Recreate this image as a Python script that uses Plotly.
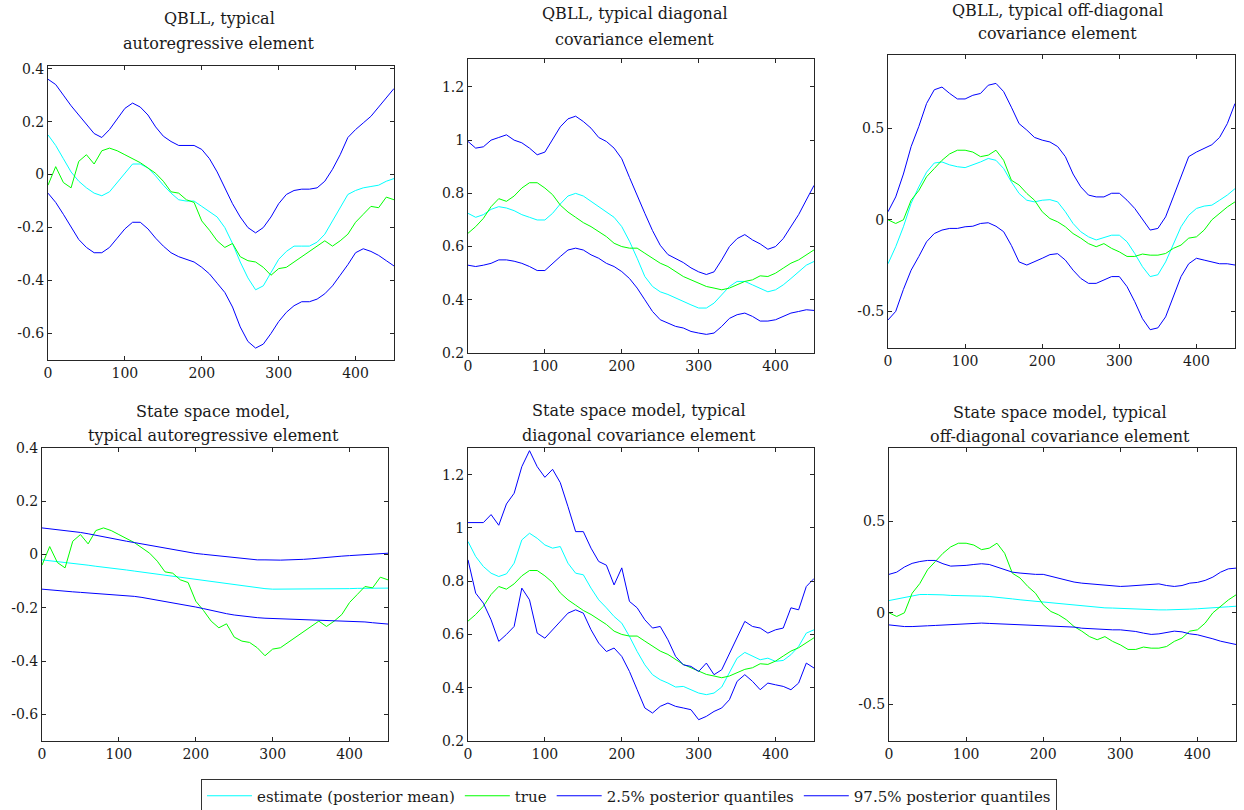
import plotly.graph_objects as go

W, H = 1244, 810
FONT = "DejaVu Serif"


def px(xp):
    return xp / W


def py(yp):
    return 1 - yp / H


T = list(range(0, 451, 10))

# ---- true parameter paths (same in both rows) ----
ar_true = [-0.04, 0.03, -0.03, -0.05, 0.05, 0.075, 0.04, 0.09, 0.10, 0.09,
           0.075, 0.06, 0.045, 0.025, 0.005, -0.025, -0.065, -0.07, -0.095, -0.105,
           -0.175, -0.21, -0.25, -0.275, -0.26, -0.31, -0.325, -0.33, -0.35, -0.38,
           -0.355, -0.35, -0.33, -0.31, -0.29, -0.27, -0.25, -0.27, -0.25, -0.225,
           -0.18, -0.15, -0.12, -0.125, -0.085, -0.095]
diag_true = [0.65, 0.675, 0.706, 0.75, 0.78, 0.77, 0.79, 0.82, 0.84, 0.84,
             0.82, 0.795, 0.756, 0.73, 0.71, 0.69, 0.675, 0.656, 0.6375, 0.6125,
             0.60, 0.594, 0.594, 0.575, 0.556, 0.5375, 0.525, 0.506, 0.4875, 0.475,
             0.4625, 0.45, 0.444, 0.4375, 0.444, 0.456, 0.469, 0.475, 0.49, 0.4875,
             0.50, 0.519, 0.5375, 0.55, 0.569, 0.5875]
off_true = [0.0, -0.02, 0.0, 0.107, 0.16, 0.235, 0.28, 0.325, 0.36, 0.38,
            0.38, 0.37, 0.345, 0.353, 0.38, 0.325, 0.216, 0.19, 0.144, 0.107,
            0.044, 0.007, -0.011, -0.038, -0.075, -0.10, -0.13, -0.147, -0.13, -0.156,
            -0.175, -0.20, -0.20, -0.187, -0.193, -0.193, -0.184, -0.156, -0.138, -0.10,
            -0.093, -0.056, 0.0, 0.035, 0.07, 0.098]

# ---- QBLL ----
qbll_ar_mean = [0.15, 0.11, 0.06, 0.01, -0.025, -0.05, -0.07, -0.08, -0.065, -0.03,
                0.005, 0.04, 0.04, 0.025, -0.005, -0.04, -0.07, -0.095, -0.10, -0.10,
                -0.12, -0.14, -0.16, -0.20, -0.26, -0.33, -0.39, -0.435, -0.42, -0.37,
                -0.32, -0.29, -0.27, -0.27, -0.27, -0.255, -0.225, -0.175, -0.125, -0.075,
                -0.06, -0.05, -0.045, -0.04, -0.025, -0.015]
qbll_ar_lo = [-0.07, -0.105, -0.15, -0.20, -0.245, -0.275, -0.295, -0.295, -0.275, -0.24,
              -0.205, -0.18, -0.18, -0.205, -0.24, -0.27, -0.295, -0.31, -0.32, -0.33,
              -0.35, -0.375, -0.41, -0.445, -0.50, -0.575, -0.63, -0.655, -0.64, -0.60,
              -0.555, -0.52, -0.495, -0.48, -0.48, -0.47, -0.45, -0.42, -0.38, -0.34,
              -0.295, -0.28, -0.29, -0.305, -0.325, -0.345]
qbll_ar_hi = [0.36, 0.34, 0.30, 0.26, 0.225, 0.19, 0.155, 0.14, 0.17, 0.21,
              0.25, 0.27, 0.255, 0.225, 0.18, 0.145, 0.125, 0.11, 0.11, 0.11,
              0.095, 0.06, 0.01, -0.05, -0.11, -0.16, -0.20, -0.22, -0.20, -0.16,
              -0.11, -0.075, -0.06, -0.055, -0.055, -0.05, -0.025, 0.02, 0.075, 0.14,
              0.17, 0.195, 0.22, 0.255, 0.29, 0.325]

qbll_diag_mean = [0.725, 0.71, 0.72, 0.74, 0.75, 0.745, 0.735, 0.72, 0.71, 0.70,
                  0.70, 0.725, 0.76, 0.79, 0.80, 0.79, 0.77, 0.75, 0.73, 0.71,
                  0.675, 0.62, 0.556, 0.4875, 0.45, 0.43, 0.42, 0.406, 0.394, 0.381,
                  0.369, 0.369, 0.3875, 0.42, 0.45, 0.469, 0.469, 0.456, 0.444, 0.43,
                  0.4375, 0.456, 0.48, 0.506, 0.53, 0.544]
qbll_diag_lo = [0.53, 0.525, 0.53, 0.537, 0.55, 0.55, 0.545, 0.537, 0.525, 0.51,
                0.51, 0.537, 0.5625, 0.587, 0.594, 0.587, 0.569, 0.556, 0.537, 0.525,
                0.506, 0.48, 0.444, 0.40, 0.356, 0.325, 0.3125, 0.30, 0.294, 0.281,
                0.275, 0.27, 0.275, 0.30, 0.33, 0.344, 0.35, 0.3375, 0.32, 0.32,
                0.325, 0.3375, 0.35, 0.356, 0.3625, 0.36]
qbll_diag_hi = [0.995, 0.97, 0.975, 1.0, 1.01, 1.02, 1.0, 0.99, 0.97, 0.945,
                0.955, 1.0, 1.05, 1.08, 1.09, 1.07, 1.045, 1.01, 0.995, 0.97,
                0.93, 0.86, 0.79, 0.725, 0.66, 0.605, 0.57, 0.555, 0.54, 0.52,
                0.505, 0.495, 0.505, 0.55, 0.60, 0.63, 0.645, 0.625, 0.61, 0.59,
                0.60, 0.63, 0.675, 0.72, 0.775, 0.83]

qbll_off_mean = [-0.24, -0.147, -0.038, 0.09, 0.18, 0.26, 0.31, 0.316, 0.30, 0.29,
                 0.285, 0.30, 0.316, 0.335, 0.325, 0.28, 0.207, 0.144, 0.107, 0.098,
                 0.107, 0.11, 0.098, 0.044, -0.02, -0.065, -0.093, -0.11, -0.096, -0.084,
                 -0.084, -0.12, -0.184, -0.256, -0.31, -0.30, -0.23, -0.13, -0.038, 0.025,
                 0.062, 0.075, 0.08, 0.107, 0.135, 0.17]
qbll_off_lo = [-0.547, -0.50, -0.38, -0.275, -0.20, -0.12, -0.075, -0.056, -0.047, -0.047,
               -0.038, -0.035, -0.02, -0.016, -0.035, -0.065, -0.14, -0.23, -0.247, -0.23,
               -0.21, -0.19, -0.185, -0.22, -0.275, -0.32, -0.347, -0.347, -0.33, -0.31,
               -0.31, -0.365, -0.447, -0.54, -0.60, -0.59, -0.53, -0.42, -0.31, -0.24,
               -0.21, -0.22, -0.23, -0.24, -0.24, -0.247]
qbll_off_hi = [0.044, 0.125, 0.25, 0.40, 0.51, 0.635, 0.71, 0.725, 0.69, 0.66,
               0.66, 0.68, 0.69, 0.735, 0.745, 0.70, 0.615, 0.525, 0.49, 0.45,
               0.435, 0.425, 0.40, 0.345, 0.25, 0.18, 0.135, 0.125, 0.125, 0.145,
               0.145, 0.107, 0.062, 0.0, -0.056, -0.047, 0.016, 0.125, 0.235, 0.345,
               0.37, 0.39, 0.41, 0.45, 0.525, 0.635]

# ---- State space model ----
ssm_ar_mean = [-0.020, -0.023, -0.027, -0.030, -0.033, -0.037, -0.040, -0.044, -0.047, -0.051,
               -0.054, -0.058, -0.062, -0.066, -0.070, -0.074, -0.078, -0.082, -0.086, -0.090,
               -0.094, -0.098, -0.102, -0.106, -0.110, -0.114, -0.118, -0.122, -0.125, -0.128,
               -0.130, -0.130, -0.130, -0.130, -0.130, -0.130, -0.130, -0.130, -0.130, -0.129,
               -0.128, -0.127, -0.127, -0.127, -0.126, -0.126]
ssm_ar_lo = [-0.130, -0.133, -0.136, -0.138, -0.140, -0.142, -0.144, -0.146, -0.148, -0.150,
             -0.152, -0.154, -0.157, -0.161, -0.166, -0.170, -0.176, -0.181, -0.187, -0.192,
             -0.197, -0.203, -0.210, -0.216, -0.222, -0.227, -0.231, -0.235, -0.237, -0.239,
             -0.240, -0.241, -0.242, -0.243, -0.244, -0.245, -0.246, -0.247, -0.248, -0.249,
             -0.250, -0.251, -0.253, -0.256, -0.259, -0.261]
ssm_ar_hi = [0.100, 0.097, 0.094, 0.090, 0.087, 0.083, 0.078, 0.072, 0.067, 0.061,
             0.056, 0.050, 0.045, 0.040, 0.034, 0.028, 0.023, 0.018, 0.013, 0.008,
             0.004, 0.001, -0.002, -0.005, -0.008, -0.011, -0.015, -0.018, -0.020, -0.020,
             -0.021, -0.021, -0.020, -0.020, -0.018, -0.016, -0.013, -0.010, -0.008, -0.006,
             -0.004, -0.002, 0.000, 0.000, 0.002, 0.005]

ssm_diag_mean = [0.949, 0.8925, 0.855, 0.83, 0.8175, 0.8275, 0.8675, 0.955, 0.98, 0.961,
                 0.936, 0.924, 0.93, 0.8675, 0.83, 0.824, 0.774, 0.73, 0.70, 0.6675,
                 0.6425, 0.5925, 0.536, 0.486, 0.449, 0.43, 0.4175, 0.4025, 0.405, 0.3925,
                 0.38, 0.374, 0.38, 0.4025, 0.455, 0.511, 0.5325, 0.5175, 0.505, 0.511,
                 0.499, 0.5025, 0.524, 0.555, 0.605, 0.6175]
ssm_diag_lo = [0.88, 0.755, 0.7175, 0.655, 0.574, 0.60, 0.63, 0.774, 0.73, 0.605,
               0.586, 0.6175, 0.649, 0.68, 0.6925, 0.68, 0.6175, 0.5675, 0.536, 0.549,
               0.5175, 0.461, 0.3925, 0.324, 0.305, 0.33, 0.3425, 0.33, 0.324, 0.3175,
               0.28, 0.2925, 0.311, 0.324, 0.355, 0.424, 0.449, 0.424, 0.3925, 0.4175,
               0.411, 0.405, 0.3925, 0.4175, 0.4925, 0.474]
ssm_diag_hi = [1.02, 1.02, 1.02, 1.05, 1.01, 1.09, 1.13, 1.23, 1.29, 1.23,
               1.19, 1.22, 1.17, 1.08, 0.986, 0.986, 0.924, 0.874, 0.86, 0.786,
               0.85, 0.724, 0.70, 0.655, 0.624, 0.63, 0.58, 0.5175, 0.486, 0.48,
               0.461, 0.4925, 0.449, 0.4675, 0.53, 0.5925, 0.649, 0.63, 0.624, 0.605,
               0.6175, 0.624, 0.70, 0.6925, 0.78, 0.81]

ssm_off_mean = [0.067, 0.076, 0.086, 0.095, 0.10, 0.10, 0.10, 0.098, 0.095, 0.095,
                0.095, 0.093, 0.091, 0.089, 0.086, 0.08, 0.076, 0.071, 0.067, 0.064,
                0.06, 0.055, 0.049, 0.046, 0.04, 0.036, 0.033, 0.029, 0.027, 0.026,
                0.024, 0.022, 0.02, 0.018, 0.016, 0.016, 0.016, 0.016, 0.018, 0.02,
                0.022, 0.024, 0.026, 0.029, 0.033, 0.036]
ssm_off_lo = [-0.066, -0.071, -0.075, -0.075, -0.071, -0.071, -0.069, -0.067, -0.064, -0.06,
              -0.058, -0.056, -0.056, -0.058, -0.06, -0.062, -0.064, -0.064, -0.066, -0.069,
              -0.073, -0.073, -0.073, -0.075, -0.078, -0.084, -0.087, -0.089, -0.091, -0.093,
              -0.093, -0.097, -0.102, -0.111, -0.118, -0.115, -0.106, -0.10, -0.104, -0.115,
              -0.12, -0.129, -0.142, -0.155, -0.166, -0.173]
ssm_off_hi = [0.21, 0.222, 0.25, 0.27, 0.28, 0.286, 0.286, 0.268, 0.255, 0.255,
              0.259, 0.264, 0.268, 0.264, 0.25, 0.237, 0.222, 0.217, 0.213, 0.21,
              0.21, 0.20, 0.186, 0.177, 0.168, 0.162, 0.158, 0.155, 0.149, 0.144,
              0.144, 0.146, 0.149, 0.153, 0.158, 0.158, 0.149, 0.144, 0.149, 0.162,
              0.166, 0.177, 0.195, 0.222, 0.24, 0.244]

x_ticks = [0, 100, 200, 300, 400]
ar_ticks = [-0.6, -0.4, -0.2, 0, 0.2, 0.4]
ar_labels = ["-0.6", "-0.4", "-0.2", "0", "0.2", "0.4"]
diag_ticks = [0.2, 0.4, 0.6, 0.8, 1.0, 1.2]
diag_labels = ["0.2", "0.4", "0.6", "0.8", "1", "1.2"]
off_ticks = [-0.5, 0, 0.5]
off_labels = ["-0.5", "0", "0.5"]

series_names = ["estimate (posterior mean)", "true",
                "2.5% posterior quantiles", "97.5% posterior quantiles"]
series_colors = ["#00FFFF", "#00FF00", "#0000FF", "#0000FF"]

panels = [
    dict(t1="QBLL, typical", t2="autoregressive element",
         data=[qbll_ar_mean, ar_true, qbll_ar_lo, qbll_ar_hi],
         yr=[-0.7, 0.41], yt=ar_ticks, yl=ar_labels,
         box=(48, 394, 66, 360), tx=219, ty=(18, 43)),
    dict(t1="QBLL, typical diagonal", t2="covariance element",
         data=[qbll_diag_mean, diag_true, qbll_diag_lo, qbll_diag_hi],
         yr=[0.2, 1.305], yt=diag_ticks, yl=diag_labels,
         box=(468, 814, 59, 353), tx=635, ty=(14, 39)),
    dict(t1="QBLL, typical off-diagonal", t2="covariance element",
         data=[qbll_off_mean, off_true, qbll_off_lo, qbll_off_hi],
         yr=[-0.7, 0.9], yt=off_ticks, yl=off_labels,
         box=(888, 1235, 55, 348), tx=1057, ty=(10, 33)),
    dict(t1="State space model,", t2="typical autoregressive element",
         data=[ssm_ar_mean, ar_true, ssm_ar_lo, ssm_ar_hi],
         yr=[-0.7, 0.4], yt=ar_ticks, yl=ar_labels,
         box=(42, 388, 448, 741), tx=213, ty=(411, 435)),
    dict(t1="State space model, typical", t2="diagonal covariance element",
         data=[ssm_diag_mean, diag_true, ssm_diag_lo, ssm_diag_hi],
         yr=[0.2, 1.3], yt=diag_ticks, yl=diag_labels,
         box=(468, 814, 448, 741), tx=639, ty=(410, 435)),
    dict(t1="State space model, typical", t2="off-diagonal covariance element",
         data=[ssm_off_mean, off_true, ssm_off_lo, ssm_off_hi],
         yr=[-0.7, 0.9], yt=off_ticks, yl=off_labels,
         box=(889, 1236, 448, 741), tx=1060, ty=(412, 436)),
]

fig = go.Figure()
annotations = []
AX = "#262626"

for i, p in enumerate(panels):
    n = i + 1
    xa = "x" if n == 1 else f"x{n}"
    ya = "y" if n == 1 else f"y{n}"
    for k, (name, col) in enumerate(zip(series_names, series_colors)):
        fig.add_trace(go.Scatter(
            x=T, y=p["data"][k], mode="lines", name=name,
            line=dict(color=col, width=1),
            xaxis=xa, yaxis=ya, showlegend=(i == 0), hoverinfo="skip"))
    x0, x1, y0, y1 = p["box"]
    common = dict(showline=True, linecolor=AX, linewidth=1, mirror="ticks",
                  ticks="inside", ticklen=4, tickcolor=AX, showgrid=False,
                  zeroline=False, automargin=False,
                  tickfont=dict(family=FONT, size=14, color="#1a1a1a"))
    fig.layout[f"xaxis{'' if n == 1 else n}"] = dict(
        domain=[px(x0), px(x1)], anchor=ya, range=[0, 450],
        tickvals=x_ticks, ticktext=[str(v) for v in x_ticks], **common)
    fig.layout[f"yaxis{'' if n == 1 else n}"] = dict(
        domain=[py(y1), py(y0)], anchor=xa, range=p["yr"],
        tickvals=p["yt"], ticktext=p["yl"], **common)
    for line_txt, yy in zip((p["t1"], p["t2"]), p["ty"]):
        annotations.append(dict(
            text=line_txt, x=px(p["tx"]), y=py(yy), xref="paper", yref="paper",
            xanchor="center", yanchor="middle", showarrow=False, borderpad=0,
            font=dict(family=FONT, size=16, color="#1a1a1a")))

fig.update_layout(
    width=W, height=H,
    margin=dict(l=0, r=0, t=0, b=0, pad=0, autoexpand=False),
    paper_bgcolor="white", plot_bgcolor="white",
    annotations=annotations,
    hovermode=False,
    legend=dict(orientation="h", x=px(629), xanchor="center",
                y=py(796), yanchor="middle",
                bordercolor="#333333", borderwidth=1, bgcolor="white",
                font=dict(family=FONT, size=15, color="#1a1a1a"),
                itemwidth=45, tracegroupgap=0),
)

# remove the browser's default 8px body margin so the figure fills the window
fig.write_html("out.html",
               config={"displayModeBar": False},
               post_script="document.body.style.margin='0';document.body.style.overflow='hidden';")
